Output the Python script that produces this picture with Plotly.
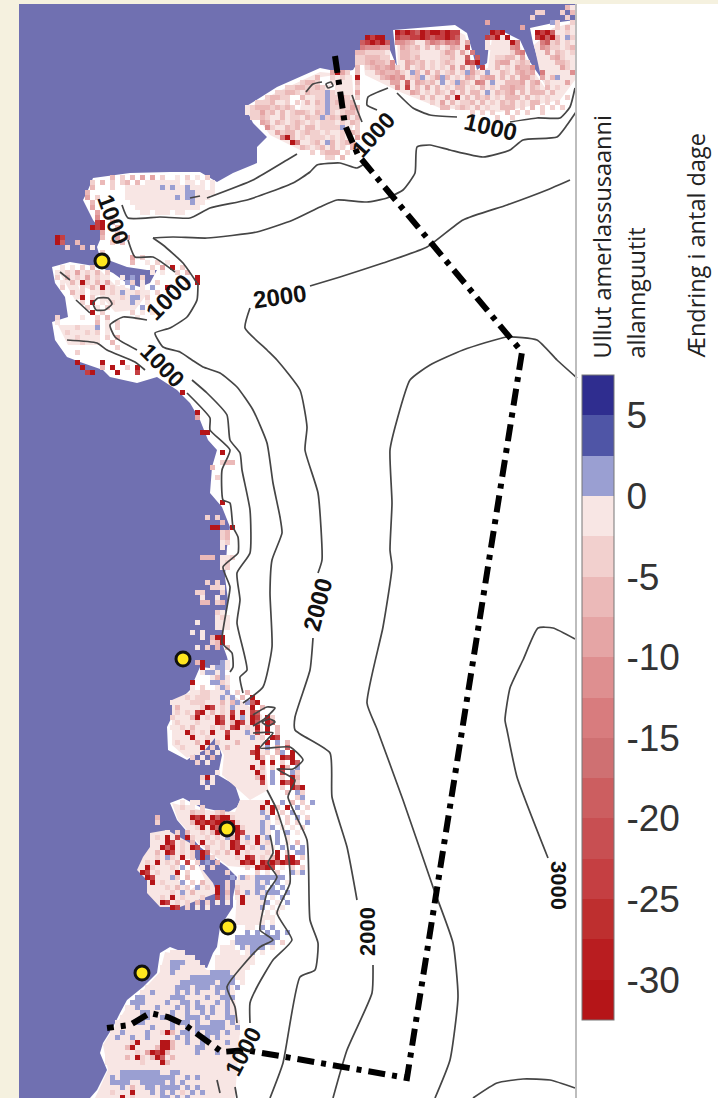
import plotly.graph_objects as go

W, H = 718, 1098
CREAM = "#F5F1DF"
SEA = "#7070B1"
PALE = "#F8E6E4"
LINE = "#454545"

band_colors = ["#B51518", "#B91D20", "#BE2F2F", "#C53F42", "#C84F52", "#CC5E60", "#CF7072", "#D87C7E",
               "#DE8F90", "#E5A5A5", "#EBB9B8", "#F2D0CE", "#F8E6E4", "#9A9FD2", "#4F55A6", "#2F2D8F"]
bar_ticks = [5, 0, -5, -10, -15, -20, -25, -30]
bar_labels = ["5", "0", "-5", "-10", "-15", "-20", "-25", "-30"]
cell_values = {"b": 3.75, "a": 1.25, "0": -1.25, "1": -3.75, "2": -6.25, "3": -8.75, "4": -11.25, "5": -13.75,
               "7": -18.75, "9": -23.75, "s": -31.25}

coast = [(19, 4), (575, 4), (575, 20), (553, 23), (530, 28), (533, 43), (543, 77), (548, 88), (530, 62), (520, 40),
         (500, 30), (490, 33), (487, 63), (477, 70), (472, 50), (467, 33), (455, 25), (393, 30), (397, 67), (390, 50),
         (385, 40), (363, 40), (365, 50), (353, 70), (340, 72), (320, 68), (277, 87), (245, 107), (253, 123), (267, 137),
         (257, 147), (257, 163), (233, 173), (217, 182), (200, 172), (170, 172), (130, 173), (93, 178), (88, 190),
         (83, 200), (93, 220), (103, 233), (97, 247), (100, 257), (127, 267), (147, 270), (157, 270), (150, 283),
         (140, 287), (127, 283), (113, 273), (100, 267), (70, 262), (52, 267), (55, 283), (65, 297), (68, 317), (52, 322),
         (55, 340), (67, 357), (80, 362), (103, 370), (110, 377), (137, 383), (157, 377), (177, 390), (190, 403),
         (200, 420), (208, 440), (217, 450), (212, 467), (210, 493), (222, 507), (230, 527), (227, 547), (225, 577),
         (228, 600), (223, 627), (222, 643), (227, 657), (230, 670), (200, 667), (190, 690), (180, 700), (167, 727),
         (168, 750), (187, 760), (207, 745), (215, 735), (222, 755), (218, 775), (235, 785), (240, 800), (237, 807),
         (227, 813), (200, 807), (183, 798), (170, 803), (177, 820), (200, 847), (213, 857), (227, 867), (237, 877),
         (233, 897), (233, 907), (220, 927), (217, 947), (213, 953), (207, 968), (190, 963), (183, 952), (170, 947),
         (160, 953), (157, 973), (143, 987), (127, 1000), (120, 1013), (113, 1027), (103, 1043), (100, 1053), (107, 1070),
         (97, 1090), (90, 1098), (19, 1098)]
island = [(150, 833), (167, 830), (190, 843), (197, 863), (213, 883), (217, 893), (180, 907), (160, 907), (147, 893),
          (147, 880), (137, 870), (143, 857), (150, 847)]
pale_areas = [
    [(250, 107), (277, 92), (320, 72), (352, 75), (355, 120), (345, 150), (300, 150), (270, 135)],
    [(362, 50), (385, 45), (392, 75), (398, 72), (397, 35), (455, 30), (465, 35), (474, 72), (488, 68), (492, 38),
     (518, 42), (530, 66), (548, 92), (541, 77), (534, 45), (553, 28), (575, 22), (575, 80), (560, 100), (500, 112),
     (440, 108), (400, 92), (365, 75)],
    [(58, 270), (100, 270), (115, 285), (135, 290), (150, 290), (135, 310), (115, 312), (100, 295), (75, 300)],
    [(58, 325), (100, 325), (100, 345), (68, 345)],
    [(172, 700), (195, 690), (225, 690), (262, 715), (268, 790), (250, 800), (222, 775), (224, 755), (215, 738),
     (205, 750), (187, 758), (172, 745)],
    [(172, 803), (200, 810), (235, 812), (240, 800), (270, 800), (272, 870), (228, 866), (200, 845), (178, 820)],
    [(238, 875), (268, 875), (262, 925), (235, 925)],
    [(165, 952), (185, 955), (207, 970), (232, 970), (235, 1000), (240, 1030), (235, 1098), (95, 1098), (108, 1070),
     (103, 1045), (125, 1010), (145, 988), (160, 972)],
]
white_patches = [
    [(285, 95), (302, 95), (300, 110), (287, 108)],
    [(315, 78), (335, 75), (335, 92), (318, 90)],
    [(255, 112), (263, 110), (265, 122), (257, 122)],
    [(180, 860), (195, 858), (205, 880), (190, 890), (178, 880)],
    [(78, 285), (92, 290), (98, 305), (85, 305)],
]

north_west = (245, 70, [
    "                 3s31 2 ",
    "              2  1 1  s ",
    "           1221  0 0  2 ",
    "        112211210 00  1 ",
    "      1122102111a10   3 ",
    "    12211  2  11a1121 1 ",
    "  1112  1 1 2 21a12212  ",
    "0122212121    11a111132 ",
    "011312 2 1221 21a1 1221 ",
    " 1121  2 11 211a12132 2 ",
    "   32 21 121 1 111 1 21 ",
    "    41  212 22 1111a  1 ",
    "      3122 1211 1  1 21 ",
    "       5s2 1 111 1 1  3 ",
    "         s5  12 a2 122  ",
    "           21 12 2 1 22 ",
    "             1 1222 1   ",
    "                11 2    "])
north = (355, 5, [
    "                                          20 1",
    "                                    11   1 21 ",
    "                                   1      1 23",
    "                          3            a1  12",
    "                                 3      1 2 1 ",
    "        s9s97s9ss9s99      s9s      s9s7  1 2 ",
    "  s9ss  97799s9799s97     97s0s     9s7s2 a1  ",
    " 79s9s7 44320 3543545 3   0 000s5    5712 1  1",
    " 544433  3212 2 20132 9   0000 45    4311 12 3",
    "2211110  22110 0 132 3 5    000145    3 21 1 2",
    "1122211  2212 000112  7 7   1122 3     231 012",
    "11232214  3212 10121  97s   233 121     221 13",
    "2 1232341 3 12 101 3 4 3 9  2 1 3224     31 21",
    "    232231 a2 3 2 12 1a31 a  21 2323 5     4 1",
    "     23434 12a 13a2 1 32 233 2 2 331 3 2a   2 ",
    "       33 7 3212 a 1a21 54 a  2223 23 1   3 2 ",
    "        4 9 2 3 2 1 22 1 2 1 22322 21 2 1   1 ",
    "           32 1 21 3 2 22 a 2123 2 222 2      ",
    "             2 2  3 s 2 212 1 222 2 1 1   1 2 ",
    "               1 3 2 112 2 1 212 1 22 1 1     ",
    "                 22 121 2 1  222 1 2 1 1 1    ",
    "                       1 1 1  2 1 1  1        ",
    "                            1  1              "])
peninsula = (85, 175, [
    "     2 1 2 3 3 1  0 1 0 1  ",
    " 1 2 1 12 2 0000000 00 0 0 ",
    " 2   1  0000000a0a00a000 0 ",
    "2       000000000000aa0000 ",
    "3 1     0000000000a0aa000  ",
    " 2       000000000000a00   ",
    " 3        0000000000000    ",
    "  3        00 000 00       ",
    "  4  1                     ",
    "  9s 2                     ",
    " s9s  2                    ",
    "   3  1                    ",
    "   2  3 3                  ",
    "     1 2                   "])
west = (45, 235, [
    "  s9                              ",
    "  s7  2                           ",
    "    1  2 0                        ",
    "           1                      ",
    "                 3 1              ",
    "                 2  0 1 0         ",
    "   0 0 1 2           1 3 s 1      ",
    "  0 1 3 1 2 1        0 0  1 2     ",
    "  1 2 1 3 1 0  0 a 1          s   ",
    "   0 2 s1 2 3 0 a1 0  1     1 s   ",
    "   1 0 1 2 s 1 0 a 0 a  s         ",
    "     2 1 0 1 1 a0 1 0 1           ",
    "       s 1 0 0 1 aa 1             ",
    "       1 s 0 1 0 a0 0             ",
    "        1 0 1    0 a              ",
    "         s 1     1 0 0            ",
    "  1    0  1 2     0               ",
    "  0       2 0 1                   ",
    "    0 1 0 a 0 1                   ",
    "    1 0 1 1 0                     ",
    "    0 1 0 0 1 2                   ",
    "     0 1     2                    ",
    "              1                   ",
    "      1                           ",
    "                                  ",
    "      s    s   s                  ",
    "       s   2 s  1 s               ",
    "        9s    s   9               "])
strip_rows = [(390, "  s"), (410, "     s"), (415, "     3"), (430, "      ss"), (450, "          s"),
              (460, "          122"), (465, "        2"), (475, "         1"), (500, "          s"),
              (515, "       1 1"), (520, "          2"), (525, "        ss  s"), (530, "          12"),
              (535, "          12"), (540, "          01"), (545, "          0"), (555, "      222 001"),
              (560, "          01"), (565, "          01"), (580, "       1 1"), (585, "        110"),
              (590, "     11   1"), (595, "      0  0"), (600, "      22 12"), (610, "         10"),
              (615, "         010"), (620, "     0   000"), (625, "         000"), (630, "    0 0"),
              (635, "      0 2ss"), (640, "        12s"), (645, "     0 1 2 2"), (660, "     2s   a0"),
              (665, "      s 0aa0"), (670, "      0aa0a"), (675, "        02a0"), (680, "    s   aa10"),
              (685, "    0 1  0a1")]
dense = (165, 690, [
    "     0 11 0 a 1 2      ",
    "    10111  a0a 2 s     ",
    " 0   111 0 2 2a a7s    ",
    "  2  0 1s9 1 a 0 s 2   ",
    "  1 1 9s 2 1 9 s 97    ",
    " 1 0 2s 1 s7 s a s9 s1 ",
    "  1 0 1 0 s9 2s9 s7 s7 ",
    " 0 1 2 0 1 2 9s 1 s s 2",
    "  0 s1 1 s 09 0 a 9 s 2",
    "  00 s0 1 0 s 0  a 1 s9",
    "  1 0 2 s 1 0 2     s a 2",
    "   1 00s 1 02 0   s a 3 7",
    "    0 0 1 0      9s 1 2a s",
    "     1 0 2        s2 1 s9s",
    "      1 0          s s 1 s7",
    "                 s 2 1 s2 a",
    "          0       s1 a 9 a1",
    "       1s0        2s a 1 s2",
    "       0 0         9 a s7s1",
    "        0              1 s7s",
    "                        2 a1",
    "                          1a"])
north_island = (170, 800, [
    "  0 00             s  a 2 1 a",
    " 0100 1           s s1 s a 1 ",
    "  0 2110 12       a s 1 a 0  ",
    "   0s9s s7ss1      a 1 1 a 1 ",
    "    2s9s9ss9s1    a  0 1 1 a ",
    "     1s s7s99s1   a a 0 0 1  ",
    "     s1 2s 7 s9   a  a a 0   ",
    "       1 1 a2s a s a a 0     ",
    "        a 1 s9 1 s 1 a 0 2   ",
    "          1 s9s 1 a 0 a a a  ",
    "           2 s 1 0 1 s 1 aa  ",
    "             1 s9 1 2s 9s 1  ",
    "              s9s s9s7s9s9   ",
    "               1 s9s9 0 1 1  ",
    "                 1 0 1  a0a  "])
south_island = (135, 815, [
    "    2",
    "    1",
    "",
    "      0 1 2 0",
    "    1 s 9 s1 0",
    "    0 s9 1 2 s 1",
    "     s7s 1 s9 2",
    "    2 s9 1 1 s7 1",
    "  0 1 a1 s 1 s 1",
    "  1 s 1 2 9 1 a 2",
    "  s1 0 1 a 2 0 1",
    " s9 1 0 s 1       1",
    "  s9 0 a1 2        a",
    "   s 1 0 a 1 2    1 2",
    "    0 1 2 1 a 1 s 1 s 1",
    "     0 1 a 2    s 2 1",
    "     1 s 1 0 1  9 1 0",
    "     s9 1 1 2 1 0 0",
    "       s9 1 0 0"])
east_coast = (230, 875, [
    "  a1 aaaaaa",
    " 0 0 a a a 0",
    " 1 0 aa a a",
    " 2 a a aaa a",
    "  s 0 a 0 a",
    "  s  0 a 0 a",
    "   0 0a 0 0",
    "   0 0 0 0",
    "  000 000",
    "  00 00 0",
    "   00 a a"])
south_east = (215, 930, [
    "      a a a a a",
    "    aaaaaaaaa",
    "   0aaaaaaaa 1",
    " 000 a0aaa 0",
    " 0000 0a 0",
    "00000000",
    "00000000",
    "0000000",
    "000000",
    " 0000"])
south = (100, 950, [
    "              000",
    "             000000",
    "             0aaa000",
    "            00aa00000",
    "            0 a0000000aaaa0 0",
    "            00000 aaaaaaaaa 0",
    "           0000 aaaaaaa aaa 0",
    "         000 0 aaa0aaa0aaa a",
    "        00a000 a a0a 0 a a0",
    "       aa000 0aaa 00 a0 aaa",
    "      aaa0 0 a 0aa a0 0a a0",
    "     0 a00 a 00a a0aa a0 a0",
    "     00 aa0 0 a 0a 0a a 0a0",
    "    00000a 0a a 0aaa a0 0aa",
    "   000 aa0 00 a aa a0 aaa a0",
    "   0000 00a 0 a 0a aaaaaa0 a",
    "  0 a0 0 a0 1s2 aa a aaa0a 0",
    "  0a0 a0 a0 0  a0a0 aa a 0",
    "  000 1s 00 ss20 a 0a 00 a0",
    " 000 2s0 0 2ss2 0 0aa 0 0",
    " 00 00 1 3s9s2 0 0 a0 0a 0",
    " 0 0 2 s1 2s7 2 0 00 0 0",
    " 00 0 0 1 0 s2 0 0 00 0",
    "  0 00 0 0 0 0 0 0 0 0",
    "  00aaaaaaaa0 aa 0 00 0",
    "  a aaaaaaaaaaa 0a a0 0",
    "  aaaa 0aaaaa a a 0 0",
    " 0 0a 2 0aa aaaa a a 0",
    "0 1 0 s 0 a a a 1 a a",
    "0 0 s 1 0 0 aa a a 0 0"])

contours = [
    [(510, 122), (537, 118), (560, 118), (570, 107), (575, 88)],
    [(457, 117), (430, 115), (413, 108), (397, 93)],
    [(388, 88), (368, 97), (367, 105), (377, 110)],
    [(190, 198), (200, 196)],
    [(207, 198), (253, 180), (287, 160), (297, 154)],
    [(122, 205), (128, 218), (160, 217), (190, 218), (210, 208), (247, 200), (293, 183), (310, 172), (317, 165),
     (340, 163), (357, 168), (364, 164)],
    [(362, 122), (358, 112), (352, 95)],
    [(198, 283), (197, 300), (187, 317), (170, 328), (155, 333), (163, 347), (180, 352), (192, 360), (203, 367), (220, 373),
     (237, 387), (253, 410), (267, 443), (273, 483), (280, 517), (282, 533), (272, 560), (270, 593), (272, 647),
     (263, 687), (243, 703)],
    [(153, 238), (173, 237), (207, 238), (257, 232), (293, 220), (320, 207), (337, 200), (367, 202), (387, 198),
     (403, 190), (415, 173), (417, 147), (430, 145), (450, 150), (483, 157), (510, 150), (523, 140), (557, 137),
     (567, 125), (576, 112)],
    [(153, 238), (163, 245), (183, 263), (197, 283)],
    [(147, 320), (123, 317), (110, 325), (115, 337), (137, 350)],
    [(192, 380), (207, 393), (227, 415), (230, 440), (240, 453), (242, 470), (250, 510), (250, 553), (237, 573),
     (240, 600), (237, 623), (247, 670), (240, 677), (243, 693)],
    [(187, 393), (210, 418), (210, 430), (230, 450), (222, 470), (223, 500), (230, 503), (233, 527), (238, 537),
     (238, 553), (223, 567), (230, 587), (227, 607), (222, 643), (232, 653), (233, 667), (230, 672)],
    [(310, 286), (340, 277), (383, 263), (427, 247), (463, 220), (507, 205), (547, 190), (570, 180)],
    [(250, 308), (245, 328), (267, 350), (277, 360), (300, 390), (307, 427), (305, 450), (318, 493), (322, 560), (318, 573)],
    [(313, 638), (310, 670), (295, 717), (295, 730), (330, 753), (332, 797), (347, 847), (357, 900)],
    [(373, 965), (372, 993), (347, 1050), (333, 1098)],
    [(253, 733), (273, 733), (260, 748), (290, 747), (303, 760), (293, 769), (277, 769), (295, 780), (288, 797), (307, 840),
     (310, 920), (318, 943), (315, 970), (300, 977), (283, 1063), (270, 1098)],
    [(267, 790), (277, 810), (287, 843), (290, 883), (277, 913), (292, 940), (273, 960), (257, 987), (250, 1003), (250, 1023)],
    [(270, 835), (273, 853), (268, 863), (277, 877), (267, 893), (263, 910), (260, 930), (273, 940), (260, 947),
     (227, 987), (235, 1007), (237, 1023)],
    [(217, 1080), (220, 1093)],
    [(235, 1087), (237, 1098)],
    [(253, 715), (267, 707), (275, 708), (263, 720), (253, 726)],
    [(262, 722), (270, 719), (275, 722), (268, 726), (262, 722)],
    [(577, 378), (557, 360), (537, 340), (507, 337), (463, 350), (430, 365), (410, 380), (397, 420), (390, 450), (392, 503),
     (390, 550), (392, 567), (383, 627), (367, 703), (377, 729), (403, 800), (433, 887), (453, 943), (458, 997),
     (450, 1060), (435, 1098)],
    [(575, 639), (553, 628), (538, 628), (523, 660), (510, 688), (505, 720), (507, 730), (517, 777), (548, 858)],
    [(473, 1098), (497, 1083), (523, 1079), (550, 1080), (575, 1088)],
    [(93, 303), (98, 298), (108, 298), (112, 304), (105, 310), (96, 310), (93, 303)],
    [(128, 240), (135, 257), (153, 257), (175, 272)],
    [(67, 340), (97, 343), (107, 350), (135, 362), (145, 370)],
    [(60, 272), (70, 280)],
    [(76, 300), (90, 313)],
    [(306, 92), (313, 84), (322, 82)],
    [(326, 84), (331, 82), (333, 86), (328, 88), (326, 84)],
]
route = [(335, 56), (345, 125), (358, 155), (522, 352), (407, 1078), (245, 1050), (222, 1052), (205, 1040), (185, 1025),
         (168, 1017), (150, 1013), (130, 1025), (107, 1028)]
stations = [(102, 261), (183, 659), (227, 829), (228, 927), (142, 973)]
contour_labels = [("1000", 490, 126, 13, 24), ("1000", 373, 135, -48, 23), ("1000", 113, 219, 70, 23),
                  ("1000", 168, 297, -45, 24), ("1000", 162, 365, 45, 23), ("2000", 279, 296, -8, 24),
                  ("2000", 317, 605, -75, 24), ("2000", 367, 932, -90, 22), ("3000", 559, 885, 90, 22),
                  ("1000", 243, 1052, -62, 23)]

blocks = [north_west, north, peninsula, west, dense, north_island, south_island, east_coast, south_east, south]

nx, ny = 111, 219
z = [[None] * nx for _ in range(ny)]


def put(x0, y, row):
    j = (y - 5) // 5
    for c, ch in enumerate(row):
        i = (x0 - 20) // 5 + c
        if ch in cell_values and 0 <= i < nx and 0 <= j < ny:
            z[j][i] = cell_values[ch]


for bx, by, rows in blocks:
    for r, row in enumerate(rows):
        put(bx, by + 5 * r, row)
for y, row in strip_rows:
    put(170, y, row)

scale = []
n = len(band_colors)
for k, col in enumerate(band_colors):
    scale += [[k / n, col], [(k + 1) / n, col]]


def path(points):
    return "M" + "L".join(f"{x},{y}" for x, y in points) + "Z"


fig = go.Figure()
fig.add_trace(go.Heatmap(
    x=[22.5 + 5 * i for i in range(nx)], y=[7.5 + 5 * j for j in range(ny)], z=z,
    zmin=-32.5, zmax=7.5, colorscale=scale, hoverongaps=False, hoverinfo="skip",
    colorbar=dict(x=582 / W, xanchor="left", y=1 - 375 / H, yanchor="top", lenmode="pixels", len=645,
                  thicknessmode="pixels", thickness=32, xpad=0, ypad=0, outlinecolor="#777", outlinewidth=1,
                  ticks="outside", ticklen=5, tickwidth=1, tickcolor="rgba(0,0,0,0)", tickvals=bar_ticks,
                  ticktext=bar_labels, tickfont=dict(family="Liberation Sans", size=37, color="#333"))))
for c in contours:
    fig.add_trace(go.Scatter(x=[p[0] for p in c], y=[p[1] for p in c], mode="lines",
                             line=dict(color=LINE, width=1.7, shape="spline", smoothing=0.5), hoverinfo="skip"))
fig.add_trace(go.Scatter(x=[p[0] for p in route], y=[p[1] for p in route], mode="lines",
                         line=dict(color="black", width=6, dash="17px,7px,5px,7px"), hoverinfo="skip"))
fig.add_trace(go.Scatter(x=[p[0] for p in stations], y=[p[1] for p in stations], mode="markers",
                         marker=dict(size=14, color="#FFE61F", line=dict(color="#111", width=3)), hoverinfo="skip"))

ann = [dict(text=f"<b>{t}</b>", x=x, y=y, xref="x", yref="y", textangle=a, showarrow=False,
            font=dict(family="Liberation Sans", size=s, color="#111"), xanchor="center", yanchor="middle")
       for t, x, y, a, s in contour_labels]
for txt, x in [("Ullut amerlassusaanni", 601), ("allannguutit", 635), ("Ændring i antal dage", 695)]:
    ann.append(dict(text=txt, x=x, y=361, xref="x", yref="y", textangle=-90, showarrow=False,
                    font=dict(family="Open Sans", size=23.5, color="#222"), xanchor="center", yanchor="bottom"))

shapes = [dict(type="rect", x0=19, x1=W, y0=4, y1=H, fillcolor="white", line_width=0, layer="below"),
          dict(type="path", path=path(coast), fillcolor=SEA, line_width=0, layer="below"),
          dict(type="path", path=path(island), fillcolor=PALE, line_width=0, layer="below")]
shapes += [dict(type="path", path=path(a), fillcolor=PALE, line_width=0, layer="below") for a in pale_areas]
shapes += [dict(type="path", path=path(a), fillcolor="white", line_width=0, layer="below") for a in white_patches]
shapes.append(dict(type="line", x0=576, x1=576, y0=4, y1=H, line=dict(color="#BDBDBD", width=2), layer="above"))

fig.update_layout(
    width=W, height=H, margin=dict(l=0, r=0, t=0, b=0, autoexpand=False), paper_bgcolor=CREAM, plot_bgcolor=CREAM,
    showlegend=False, hovermode=False, annotations=ann,
    xaxis=dict(range=[0, W], visible=False, fixedrange=True),
    yaxis=dict(range=[H, 0], visible=False, fixedrange=True),
    shapes=shapes)
fig.write_html("out.html", config={"displayModeBar": False},
               post_script="document.body.style.margin='0';document.body.style.overflow='hidden';")
